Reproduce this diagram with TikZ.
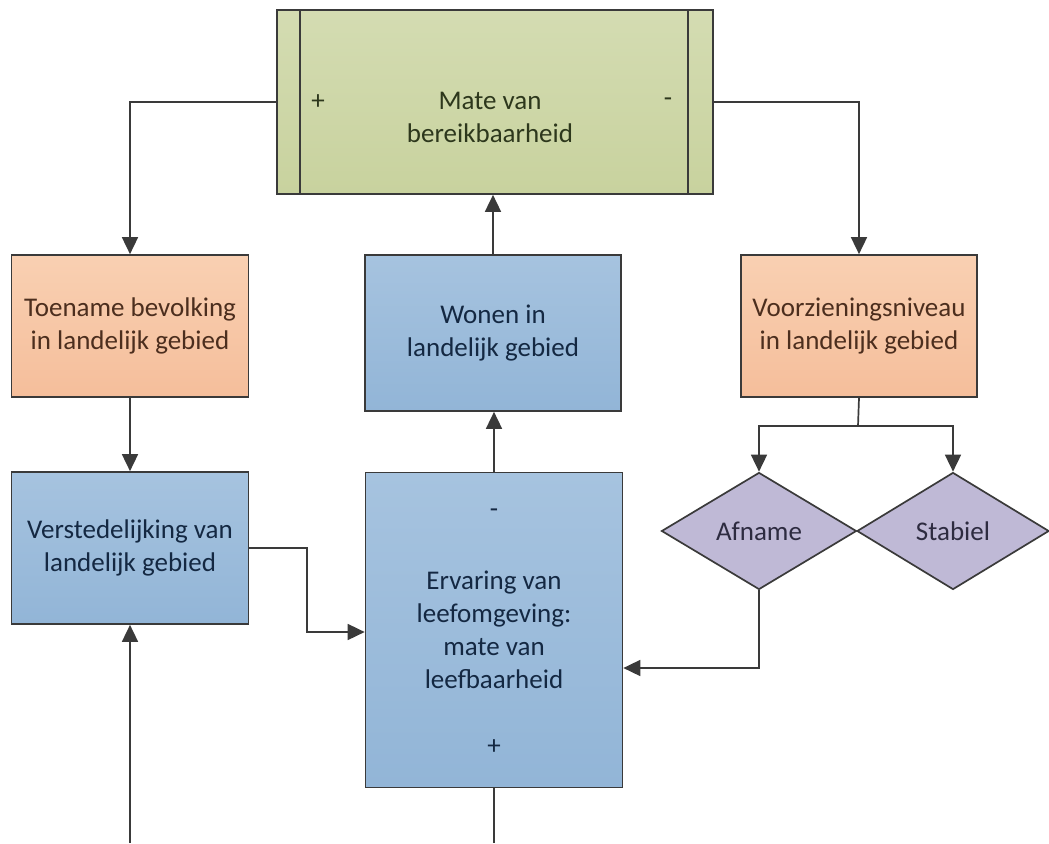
\documentclass[tikz,border=0pt]{standalone}
\usepackage{fontspec}
\setmainfont{Carlito}
\usetikzlibrary{arrows.meta,shapes.geometric}
\definecolor{grTop}{RGB}{212,220,178}
\definecolor{grBot}{RGB}{200,210,158}
\definecolor{orTop}{RGB}{249,208,178}
\definecolor{orBot}{RGB}{245,190,155}
\definecolor{blTop}{RGB}{166,195,223}
\definecolor{blBot}{RGB}{146,181,215}
\definecolor{puFill}{RGB}{191,185,214}
\definecolor{edge}{RGB}{58,58,58}
\definecolor{grText}{RGB}{45,55,28}
\definecolor{orText}{RGB}{76,46,30}
\definecolor{blText}{RGB}{20,40,66}
\definecolor{puText}{RGB}{45,43,64}
\tikzset{
  base/.style={draw=edge, line width=1.7pt, inner sep=0pt, align=center,
    font=\fontsize{27}{33}\selectfont},
  greenbox/.style={base, rectangle, top color=grTop, bottom color=grBot},
  orangebox/.style={base, rectangle, top color=orTop, bottom color=orBot, text=orText},
  bluebox/.style={base, rectangle, top color=blTop, bottom color=blBot, text=blText},
  decision/.style={base, diamond, fill=puFill, text=puText},
  txt/.style={inner sep=0pt, align=center, font=\fontsize{27}{33}\selectfont},
  arr/.style={draw=edge, line width=1.7pt, -{Triangle[length=17pt,width=16pt]}},
  conn/.style={draw=edge, line width=1.7pt}
}
\begin{document}
\begin{tikzpicture}[x=1pt,y=-1pt]
\useasboundingbox (0,0) rectangle (1049,843);
% top box
\node[greenbox, minimum width=436pt, minimum height=184pt] (topbox) at (495,102) {};
\draw[conn] ([xshift=24pt]topbox.north west) -- ([xshift=24pt]topbox.south west);
\draw[conn] ([xshift=-26pt]topbox.north east) -- ([xshift=-26pt]topbox.south east);
\node[txt, text=grText] (toptxt) at (490,117) {Mate van\\bereikbaarheid};
\node[txt, text=grText] (topplus) at (318,102) {+};
\node[txt, text=grText] (topminus) at (668,102) {-};
% second row
\node[orangebox, minimum width=237pt, minimum height=142pt] (lo) at (130,326) {Toename bevolking\\in landelijk gebied};
\node[bluebox, minimum width=256pt, minimum height=156pt] (mid) at (493,333) {Wonen in\\landelijk gebied};
\node[orangebox, minimum width=236pt, minimum height=142pt] (ro) at (859,326) {Voorzieningsniveau\\in landelijk gebied};
% third row
\node[bluebox, minimum width=237pt, minimum height=152pt] (lb) at (130,548) {Verstedelijking van\\landelijk gebied};
\node[bluebox, minimum width=257pt, minimum height=315pt] (cb) at (494,630) {};
\node[txt, text=blText] (cbminus) at (494,513) {-};
\node[txt, text=blText] (cbtxt) at (494,630) {Ervaring van\\leefomgeving:\\mate van\\leefbaarheid};
\node[txt, text=blText] (cbplus) at (494,747) {+};
\node[decision, minimum width=195pt, minimum height=117pt] (af) at (759,531) {Afname};
\node[decision, minimum width=192pt, minimum height=117pt] (st) at (953,531) {Stabiel};
% connectors
\draw[arr] (topbox.west) -| (lo.north);
\draw[arr] (topbox.east) -| (ro.north);
\draw[arr] (mid.north) -- (mid.north |- topbox.south);
\draw[arr] (cb.north) -- (cb.north |- mid.south);
\draw[arr] (lo.south) -- (lb.north);
\coordinate (br) at (858,426);
\draw[conn] (ro.south) -- (br);
\draw[arr] (br) -| (af.north);
\draw[arr] (br) -| (st.north);
\coordinate (c1) at (307,632);
\draw[arr] (lb.east) -| (c1) -- (c1 -| cb.west);
\coordinate (c2) at (700,668);
\draw[arr] (af.south) |- (c2 -| cb.east);
\coordinate (bl) at (130,843);
\draw[arr] (bl) -- (lb.south);
\coordinate (bc) at (494,843);
\draw[conn] (cb.south) -- (bc);
\end{tikzpicture}
\end{document}
